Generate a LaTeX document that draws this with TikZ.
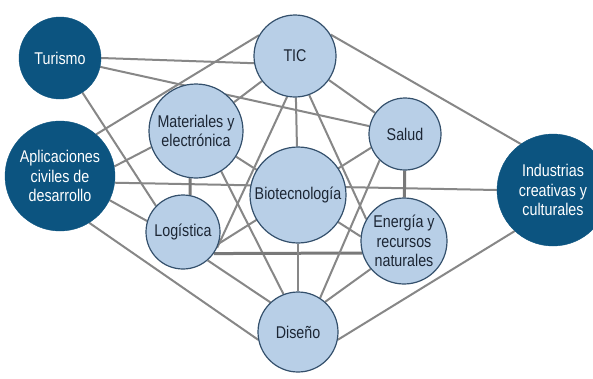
\documentclass[tikz,border=0pt]{standalone}
\usepackage{fontspec}
\setmainfont{Liberation Sans}[FakeStretch=0.84]
\usetikzlibrary{backgrounds}
\definecolor{darkblue}{RGB}{12,84,128}
\definecolor{lightblue}{RGB}{184,207,231}
\definecolor{rimblue}{RGB}{52,80,108}
\definecolor{txtdark}{RGB}{28,38,52}
\definecolor{linkgray}{RGB}{135,135,135}
\tikzset{
  basenode/.style={circle, inner sep=0pt, align=center, font=\fontsize{17}{19.5}\selectfont},
  darknode/.style={basenode, fill=darkblue, draw=darkblue, text=white},
  lightnode/.style={basenode, fill=lightblue, draw=rimblue, line width=1.2pt, text=txtdark},
  link/.style={draw=linkgray, line width=2pt},
  thicklink/.style={draw=linkgray!90!black, line width=3pt}
}
\begin{document}
\begin{tikzpicture}[x=1pt,y=-1pt]
\useasboundingbox (0,0) rectangle (593,378);
% nodes
\node[darknode, minimum size=82pt] (tur) at (60,58) {Turismo};
\node[darknode, minimum size=110pt] (apl) at (60,176) {Aplicaciones\\civiles de\\desarrollo};
\node[lightnode, minimum size=82pt] (tic) at (295,56) {TIC};
\node[lightnode, minimum size=94pt] (mat) at (196,131) {Materiales y\\electrónica};
\node[lightnode, minimum size=72pt] (sal) at (405,134) {Salud};
\node[lightnode, minimum size=96pt] (bio) at (298,195) {Biotecnología};
\node[lightnode, minimum size=74pt] (log) at (183,232) {Logística};
\node[lightnode, minimum size=86pt] (ene) at (404,241) {Energía y\\recursos\\naturales};
\node[lightnode, minimum size=80pt] (dis) at (298,332) {Diseño};
\node[darknode, minimum size=112pt] (ind) at (553,190) {Industrias\\creativas y\\culturales};
% connectors
\begin{pgfonlayer}{background}
\fill[white] (0,0) rectangle (593,378);
\draw[link] (tur.0) -- (tic.190);
\draw[link] (tur) -- (sal);
\draw[link] (tur) -- (log.136);
\draw[link] (apl.49) -- (tic.150);
\draw[link] (apl.10) -- (mat.200);
\draw[link] (apl.-7) -- (ind.180);
\draw[link] (apl.-26) -- (log.163);
\draw[link] (apl.-58) -- (dis.191);
\draw[link] (mat) -- (tic);
\draw[link] (tic) -- (sal);
\draw[link] (tic.31) -- (ind.125);
\draw[link] (tic) -- (bio);
\draw[link] (tic.259) -- (log.-25);
\draw[link] (tic.-70) -- (ene.150);
\draw[thicklink] (mat.-97) -- (log.79);
\draw[link] (mat) -- (ene.174);
\draw[link] (mat.-58) -- (dis.111);
\draw[link] (log.-18) -- (sal.202);
\draw[thicklink] (log.-35) -- (ene.196);
\draw[link] (log.-49) -- (dis.133);
\draw[link] (bio) -- (dis);
\draw[thicklink] (sal) -- (ene);
\draw[link] (sal.226) -- (dis.57);
\draw[link] (ene.220) -- (dis.48);
\draw[link] (ind.227) -- (dis.-11);
\end{pgfonlayer}
\end{tikzpicture}
\end{document}
